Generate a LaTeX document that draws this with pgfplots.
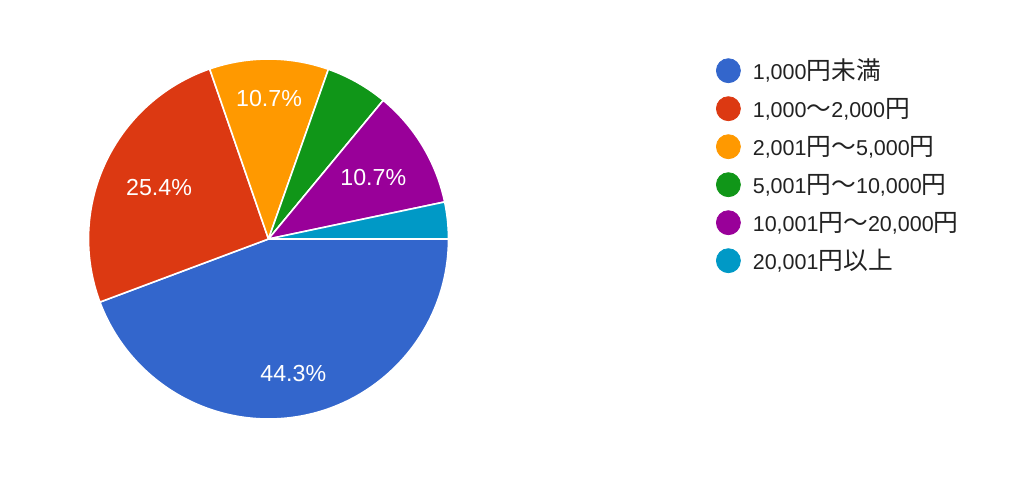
\documentclass[border=0pt]{standalone}
\usepackage{pgfplots}
\usepackage{pgfplotstable}
\pgfplotsset{compat=1.18}
\usepackage{fontspec}
\setmainfont{Liberation Sans}
\newfontfamily\cjk{Noto Sans CJK JP}[Scale=1.15]
\newcommand\J[1]{{\cjk #1}}
\definecolor{c1}{HTML}{3366CC}
\definecolor{c2}{HTML}{DC3912}
\definecolor{c3}{HTML}{FF9900}
\definecolor{c4}{HTML}{109618}
\definecolor{c5}{HTML}{990099}
\definecolor{c6}{HTML}{0099C6}
\definecolor{txt}{HTML}{222222}

% share (%), colour, label position (px, y up)
\pgfplotstableread{
pct col lx ly
44.3 c1 293.3 115.7
25.4 c2 159.0 301.3
10.7 c3 269.0 390.7
5.6 c4 nan nan
10.7 c5 373.3 311.7
3.3 c6 nan nan
}\piedata

\begin{document}
\begin{tikzpicture}
\begin{axis}[
  width=512pt, height=244.5pt, scale only axis,
  xmin=0, xmax=1024, ymin=0, ymax=489,
  hide axis, clip=false,
  /pgf/number format/assume math mode=true,
  legend style={draw=none, fill=none, inner sep=0pt, outer sep=0pt,
    at={(axis cs:716,322.6)}, anchor=west,
    font=\fontsize{10.75}{12}\selectfont, text=txt,
    row sep=5.9pt,
    nodes={inner sep=0pt, text height=7.5pt, text depth=2.5pt},
    /tikz/every odd column/.append style={column sep=6pt}},
  legend cell align=left,
]
\pgfplotsextra{
  \path (axis cs:0,0) rectangle (axis cs:1024,489);
  \pgfplotstablegetrowsof{\piedata}
  \pgfmathtruncatemacro\lastrow{\pgfplotsretval-1}
  \xdef\cum{0}
  \foreach \i in {0,...,\lastrow}{
    \pgfplotstablegetelem{\i}{pct}\of\piedata \let\p\pgfplotsretval
    \pgfplotstablegetelem{\i}{col}\of\piedata \let\slicecol\pgfplotsretval
    \pgfmathsetmacro\sa{-3.6*\cum}
    \pgfmathsetmacro\sb{-3.6*(\cum+\p)}
    \filldraw[fill=\slicecol, draw=white, line width=0.8pt, line join=round]
      (axis cs:268.5,250) -- ([shift={(\sa:90pt)}]axis cs:268.5,250)
      arc[start angle=\sa, end angle=\sb, radius=90pt] -- cycle;
    \pgfmathsetmacro\newcum{\cum+\p}
    \xdef\cum{\newcum}
  }
}
\addplot[draw=none, mark=none, forget plot, point meta=explicit,
  unbounded coords=discard,
  nodes near coords={\pgfmathprintnumber[fixed,precision=1,fixed zerofill]{\pgfplotspointmeta}\%},
  nodes near coords align=center,
  every node near coord/.style={anchor=center, text=white, inner sep=0pt,
    font=\fontsize{11.6}{13}\selectfont}]
  table[x=lx, y=ly, meta=pct]{\piedata};

\addlegendimage{legend image code/.code={\fill[c1] (6pt,1.9pt) circle (6pt);}}
\addlegendentry{1,000\J{円未満}}
\addlegendimage{legend image code/.code={\fill[c2] (6pt,1.9pt) circle (6pt);}}
\addlegendentry{1,000\J{～}2,000\J{円}}
\addlegendimage{legend image code/.code={\fill[c3] (6pt,1.9pt) circle (6pt);}}
\addlegendentry{2,001\J{円～}5,000\J{円}}
\addlegendimage{legend image code/.code={\fill[c4] (6pt,1.9pt) circle (6pt);}}
\addlegendentry{5,001\J{円～}10,000\J{円}}
\addlegendimage{legend image code/.code={\fill[c5] (6pt,1.9pt) circle (6pt);}}
\addlegendentry{10,001\J{円～}20,000\J{円}}
\addlegendimage{legend image code/.code={\fill[c6] (6pt,1.9pt) circle (6pt);}}
\addlegendentry{20,001\J{円以上}}
\end{axis}
\end{tikzpicture}
\end{document}
